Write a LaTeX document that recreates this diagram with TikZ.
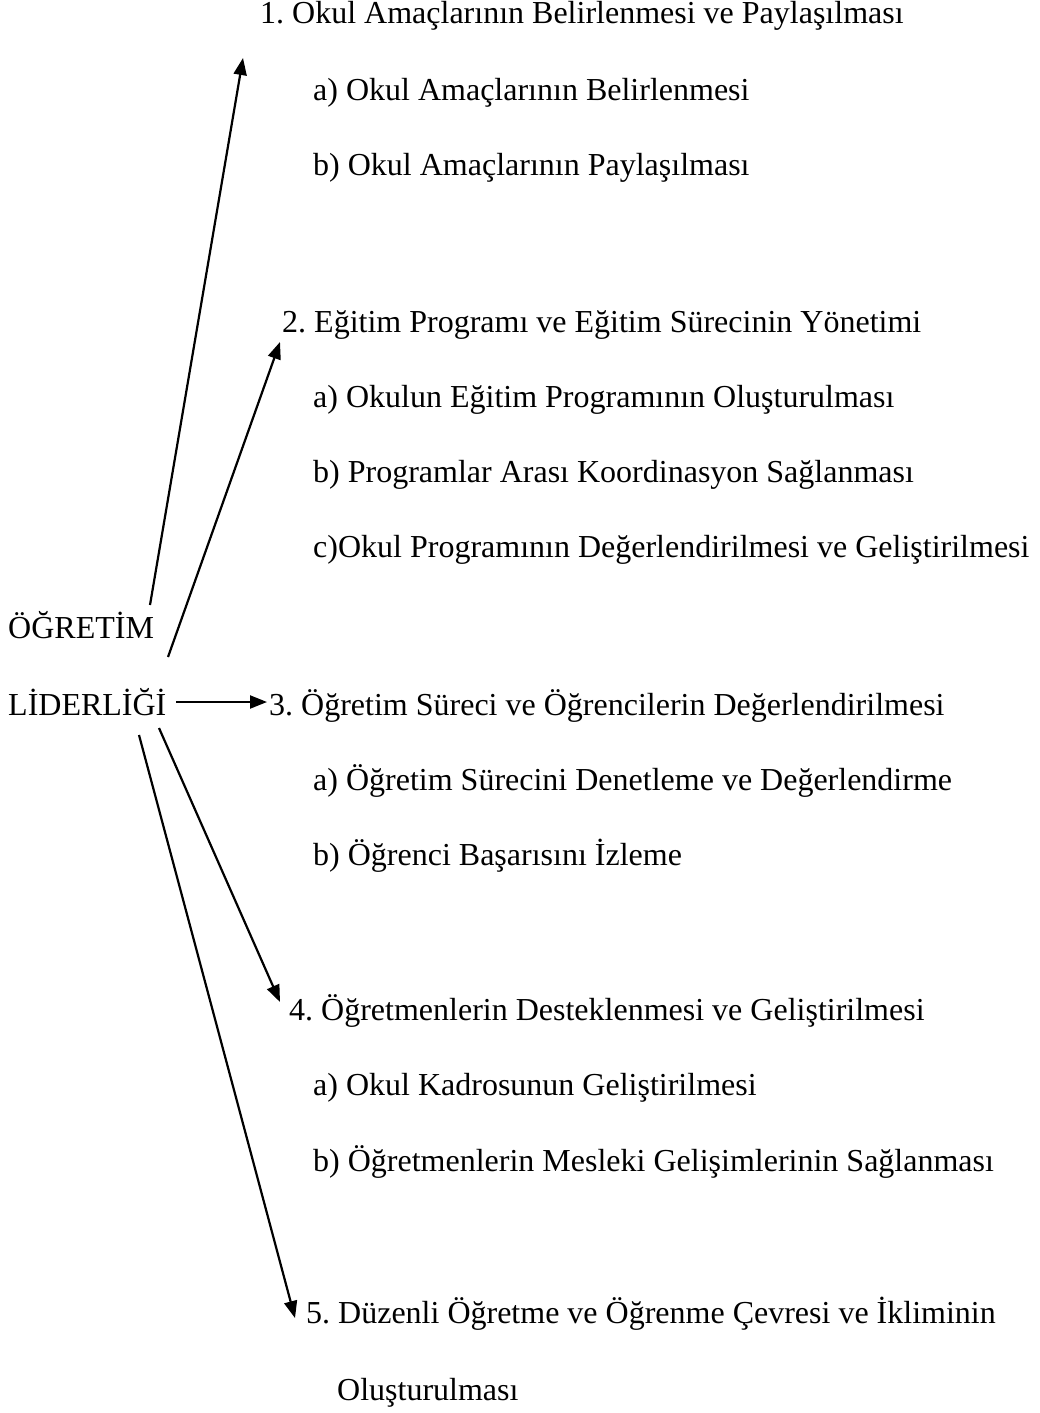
\documentclass[tikz,border=0pt]{standalone}
\usepackage{fontspec}
\setmainfont{Liberation Serif}
\usetikzlibrary{arrows.meta}
\begin{document}
\frenchspacing
\begin{tikzpicture}[x=1pt,y=-1pt,
  txt/.style={anchor=base west,inner sep=0pt,font=\fontsize{32}{38}\selectfont},
  arr/.style={line width=2.2pt,-{Triangle[length=17pt,width=13pt]}}]
\useasboundingbox (0,0) rectangle (1039,1413);
\node[txt] (t1) at (260,24) {1. Okul Amaçlarının Belirlenmesi ve Paylaşılması};
\node[txt] (t1a) at (313,100) {a) Okul Amaçlarının Belirlenmesi};
\node[txt] (t1b) at (313,175) {b) Okul Amaçlarının Paylaşılması};
\node[txt] (t2) at (282,332) {2. Eğitim Programı ve Eğitim Sürecinin Yönetimi};
\node[txt] (t2a) at (313,407) {a) Okulun Eğitim Programının Oluşturulması};
\node[txt] (t2b) at (313,482) {b) Programlar Arası Koordinasyon Sağlanması};
\node[txt] (t2c) at (313,557) {c)Okul Programının Değerlendirilmesi ve Geliştirilmesi};
\node[txt] (ogr) at (8,638) {ÖĞRETİM};
\node[txt] (lid) at (8,715) {LİDERLİĞİ};
\node[txt] (t3) at (269,715) {3. Öğretim Süreci ve Öğrencilerin Değerlendirilmesi};
\node[txt] (t3a) at (313,790) {a) Öğretim Sürecini Denetleme ve Değerlendirme};
\node[txt] (t3b) at (313,865) {b) Öğrenci Başarısını İzleme};
\node[txt] (t4) at (289,1020) {4. Öğretmenlerin Desteklenmesi ve Geliştirilmesi};
\node[txt] (t4a) at (313,1095) {a) Okul Kadrosunun Geliştirilmesi};
\node[txt] (t4b) at (313,1171) {b) Öğretmenlerin Mesleki Gelişimlerinin Sağlanması};
\node[txt] (t5) at (306,1323) {5. Düzenli Öğretme ve Öğrenme Çevresi ve İkliminin};
\node[txt] (t5c) at (337,1400) {Oluşturulması};
\coordinate (s1) at (150,605);
\coordinate (e1) at (243,58);
\coordinate (s2) at (168,657);
\coordinate (e2) at (280,342);
\coordinate (s3) at (176,702);
\coordinate (e3) at (267,702);
\coordinate (s4) at (159,728);
\coordinate (e4) at (280,1002);
\coordinate (s5) at (139,735);
\coordinate (e5) at (295,1318);
\draw[arr] (s1) -- (e1);
\draw[arr] (s2) -- (e2);
\draw[arr] (s3) -- (e3);
\draw[arr] (s4) -- (e4);
\draw[arr] (s5) -- (e5);
\end{tikzpicture}
\end{document}
